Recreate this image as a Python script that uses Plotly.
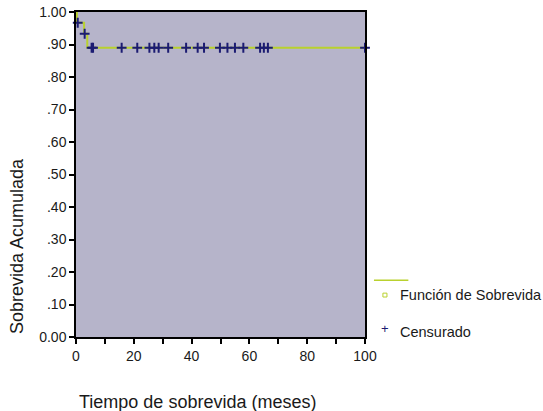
import plotly.graph_objects as go

# Kaplan-Meier survival step function
km_time = [0, 0.3, 2.8, 3.9, 100]
km_surv = [1.0, 0.967, 0.933, 0.890, 0.890]

# Censored observations (time in months, survival level)
cens_time = [0.6, 3.0, 5.4, 5.9, 15.8, 21.2, 25.4, 27.1, 28.6, 31.9, 38.1,
             42.1, 44.3, 49.8, 52.4, 55.0, 57.9, 63.7, 65.0, 66.4, 100]
cens_surv = [0.967, 0.933] + [0.890] * 19

x_ticks = [0, 10, 20, 30, 40, 50, 60, 70, 80, 90, 100]
x_labels = ["0", "", "20", "", "40", "", "60", "", "80", "", "100"]
y_ticks = [0, 0.1, 0.2, 0.3, 0.4, 0.5, 0.6, 0.7, 0.8, 0.9, 1.0]
y_labels = ["0.00", ".10", ".20", ".30", ".40", ".50", ".60", ".70", ".80", ".90", "1.00"]

LINE_C = "#b9d12e"
MARK_C = "#1b1b72"
TEXT_C = "#1a1a1a"
FONT = "Liberation Sans, Arial, sans-serif"

fig = go.Figure()
fig.add_trace(go.Scatter(x=km_time, y=km_surv, mode="lines", line_shape="hv",
                         line=dict(color=LINE_C, width=2), showlegend=False,
                         cliponaxis=False))
fig.add_trace(go.Scatter(x=cens_time, y=cens_surv, mode="markers",
                         marker=dict(symbol="cross-thin", size=7,
                                     line=dict(color=MARK_C, width=2)),
                         showlegend=False, cliponaxis=False))

axis_common = dict(showline=True, linecolor="black", linewidth=1.5, mirror=True,
                   ticks="outside", ticklen=5, tickwidth=1.5, tickcolor="black",
                   showgrid=False, zeroline=False, automargin=False,
                   tickfont=dict(family=FONT, size=14, color=TEXT_C))

fig.update_xaxes(range=[0, 100], tickvals=x_ticks, ticktext=x_labels, **axis_common)
fig.update_yaxes(range=[0, 1], tickvals=y_ticks, ticktext=y_labels, **axis_common)

# Custom legend drawn beside the plot area
shapes = [
    dict(type="line", xref="paper", yref="paper", x0=1.031, x1=1.15,
         y0=0.175, y1=0.175, line=dict(color=LINE_C, width=1.5)),
    dict(type="rect", xref="paper", yref="paper", x0=1.062, x1=1.076,
         y0=0.123, y1=0.135, line=dict(color=LINE_C, width=1)),
]
annotations = [
    dict(text="Tiempo de sobrevida (meses)", xref="paper", yref="paper",
         x=0.422, y=-0.2, xanchor="center", yanchor="middle", showarrow=False,
         font=dict(family=FONT, size=18, color=TEXT_C)),
    dict(text="Sobrevida Acumulada", xref="paper", yref="paper", textangle=-90,
         x=-0.204, y=0.28, xanchor="center", yanchor="middle", showarrow=False,
         font=dict(family=FONT, size=18, color=TEXT_C)),
    dict(text="Función de Sobrevida", xref="paper", yref="paper", x=1.114, y=0.129,
         xanchor="left", yanchor="middle", showarrow=False,
         font=dict(family=FONT, size=14.5, color=TEXT_C)),
    dict(text="+", xref="paper", yref="paper", x=1.069, y=0.025,
         xanchor="center", yanchor="middle", showarrow=False,
         font=dict(family=FONT, size=13, color=MARK_C)),
    dict(text="Censurado", xref="paper", yref="paper", x=1.114, y=0.016,
         xanchor="left", yanchor="middle", showarrow=False,
         font=dict(family=FONT, size=14.5, color=TEXT_C)),
]

fig.update_layout(width=543, height=411,
                  margin=dict(l=76, r=178, t=12, b=74),
                  plot_bgcolor="#b6b4ca", paper_bgcolor="white",
                  shapes=shapes, annotations=annotations)

fig.write_html("out.html")
